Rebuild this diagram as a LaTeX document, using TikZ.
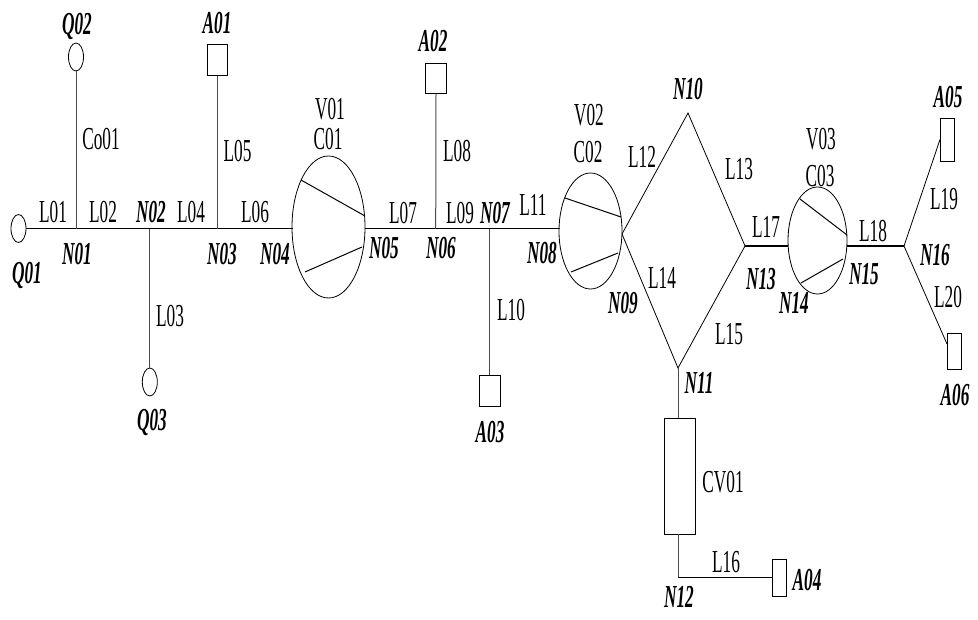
\documentclass[tikz,border=0pt]{standalone}
\usepackage{fontspec}
\setmainfont[FakeStretch=0.54]{Liberation Serif}
\begin{document}
\begin{tikzpicture}[x=1pt,y=-1pt,
  wire/.style={draw=black!70,line width=1pt},
  main wire/.style={draw=black,line width=1.1pt},
  shapeline/.style={draw=black,line width=0.8pt},
  vane/.style={draw=black,line width=1pt},
  box/.style={draw=black,line width=0.9pt,fill=white,inner sep=0pt,outer sep=0pt},
  lab/.style={inner sep=0pt,text height=21pt,text depth=0pt,font=\fontsize{32}{32}\selectfont},
  nlab/.style={lab,font=\fontsize{32}{32}\selectfont\bfseries\itshape}]
\useasboundingbox (0,0) rectangle (978,620);
% junctions
\coordinate (n01) at (76,228.7); \coordinate (n02) at (149.7,228.7);
\coordinate (n03) at (217.3,228.7); \coordinate (n04) at (293,228.7);
\coordinate (n05) at (365,228.7); \coordinate (n06) at (435.7,228.7);
\coordinate (n07) at (489.7,228.7); \coordinate (n08) at (560,228.7);
\coordinate (n09) at (622,234); \coordinate (n10) at (688,113);
\coordinate (n11) at (678,368); \coordinate (n12) at (678,577);
\coordinate (n13) at (745,246); \coordinate (n14) at (788,246);
\coordinate (n15) at (847,246); \coordinate (n16) at (904,246);
% end elements
\draw[shapeline] (18.5,228.5) ellipse [x radius=7.5,y radius=14];
\coordinate (q01) at (26,228.7);
\draw[shapeline] (76,57) ellipse [x radius=7.5,y radius=14];
\coordinate (q02) at (76,71);
\draw[shapeline] (149.8,382) ellipse [x radius=7.5,y radius=14];
\coordinate (q03) at (149.7,368);
\node[box,minimum width=20.7pt,minimum height=31.4pt] (a01) at (217.3,60) {};
\node[box,minimum width=20.6pt,minimum height=30.7pt] (a02) at (436,78.4) {};
\node[box,minimum width=20.7pt,minimum height=31.4pt] (a03) at (489.7,391) {};
\node[box,minimum width=14pt,minimum height=37pt] (a04) at (779,577.5) {};
\node[box,minimum width=14pt,minimum height=43pt] (a05) at (947,139.5) {};
\node[box,minimum width=14pt,minimum height=36pt] (a06) at (954,351) {};
\node[box,minimum width=30.7pt,minimum height=116pt] (cv01) at (679.7,476) {};
% valves
\draw[shapeline] (328.5,227) ellipse [x radius=36.5,y radius=71];
\draw[vane] (301,180) -- (365,216);
\draw[vane] (305,272) -- (362,247);
\draw[shapeline] (590.5,231) ellipse [x radius=31.5,y radius=58];
\draw[vane] (565,198) -- (621,217);
\draw[vane] (571,272) -- (618,253);
\draw[shapeline] (817.5,240.5) ellipse [x radius=29.5,y radius=53.5];
\draw[vane] (800,199) -- (847,235);
\draw[vane] (801,283) -- (843,259);
% connectors
\draw[main wire] (q01) -- (n04);
\draw[main wire] (n05) -- (n08);
\draw[wire] (n01) -- (q02);
\draw[wire] (n02) -- (q03);
\draw[wire] (n03) -- (a01.south);
\draw[wire] (n06) -- (a02.south);
\draw[wire] (n07) -- (a03.north);
\draw[shapeline,line join=miter] (n09) -- (n10) -- (n13) -- (n11) -- cycle;
\draw[main wire] (n13) -- (n14);
\draw[main wire] (n15) -- (n16);
\draw[shapeline] (n16) -- (a05.west);
\draw[shapeline] (n16) -- (a06.north west |- 0,344);
\draw[wire] (n11) -- (n11 |- cv01.north);
\draw[wire] (n12 |- cv01.south) -- (n12);
\draw[shapeline] (n12) -- (n12 -| a04.west);
% plain labels
\foreach \t/\x/\y in {L01/53/212,L02/103/212,L04/191/212,L06/255/212,L07/403/213,L09/460/213,L11/533/205,
  L03/170/316,Co01/101/139,L05/237.5/151,L08/457/151,L10/511/310,
  V01/330/109,C01/328/139,V02/589/115,C02/588/152,
  L12/642/157,L13/739/169,L14/662/278,L15/729/334,L17/766/227,
  V03/821/139,C03/820/176,L18/873/231,L19/944/199,L20/948/297,
  L16/726/562,CV01/723/482}
  \node[lab] (lab\t) at (\x,\y) {\t};
% node labels
\foreach \t/\x/\y in {Q01/27/273,Q02/77/24,Q03/152/420,N01/77/254,N02/151/212,N03/222/254,N04/275/254,N05/384/248,
  N06/441/248,N07/495/213,N08/542/253,N09/623/303,N10/688/89,N11/699/383,N12/679/597,N13/761/279,N14/794/303,
  N15/864/274,N16/935/255,A01/217/23,A02/433/41,A03/490/432,A04/807/580,A05/948/97,A06/955/395}
  \node[nlab] (name\t) at (\x,\y) {\t};
\end{tikzpicture}
\end{document}
